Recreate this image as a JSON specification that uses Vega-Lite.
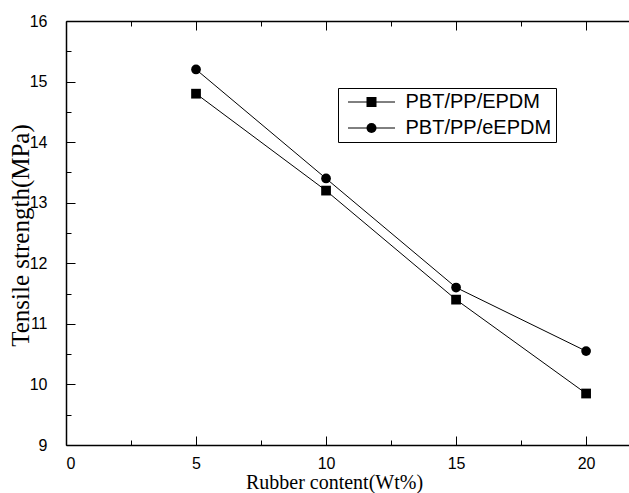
{
  "$schema": "https://vega.github.io/schema/vega-lite/v6.json",
  "width": 563,
  "height": 424,
  "autosize": "none",
  "padding": {"left": 66, "top": 21, "right": 0, "bottom": 48},
  "background": "white",
  "data": {"values": [
    {"x": 5, "y": 14.8, "series": "PBT/PP/EPDM"},
    {"x": 10, "y": 13.2, "series": "PBT/PP/EPDM"},
    {"x": 15, "y": 11.4, "series": "PBT/PP/EPDM"},
    {"x": 20, "y": 9.85, "series": "PBT/PP/EPDM"},
    {"x": 5, "y": 15.2, "series": "PBT/PP/eEPDM"},
    {"x": 10, "y": 13.4, "series": "PBT/PP/eEPDM"},
    {"x": 15, "y": 11.6, "series": "PBT/PP/eEPDM"},
    {"x": 20, "y": 10.55, "series": "PBT/PP/eEPDM"}
  ]},
  "layer": [
    {
      "mark": {"type": "line", "strokeWidth": 1},
      "encoding": {
        "x": {"field": "x", "type": "quantitative",
          "scale": {"domain": [0, 21.65], "nice": false, "zero": false},
          "axis": {"orient": "bottom", "values": [0, 5, 10, 15, 20], "format": "d",
            "tickSize": -9, "labelPadding": 19, "title": "Rubber content(Wt%)",
            "titleX": 268, "titleY": 27, "titleBaseline": "top", "titleAlign": "center", "titleFontSize": 20}},
        "y": {"field": "y", "type": "quantitative",
          "scale": {"domain": [9, 16], "nice": false, "zero": false},
          "axis": {"orient": "left", "values": [9, 10, 11, 12, 13, 14, 15, 16], "format": "d",
            "tickSize": -9, "labelPadding": 28, "title": "Tensile strength(MPa)",
            "titleX": -33, "titleY": 214, "titleAngle": -90, "titleBaseline": "bottom", "titleAlign": "center", "titleFontSize": 25}},
        "color": {"field": "series", "type": "nominal",
          "scale": {"domain": ["PBT/PP/EPDM", "PBT/PP/eEPDM"], "range": ["black", "black"]},
          "legend": {"title": null, "orient": "none", "legendX": 272, "legendY": 67,
            "padding": 4, "rowPadding": 6, "strokeColor": "black",
            "symbolType": "M-4.7,0H4.7", "symbolSize": 100, "symbolStrokeWidth": 1, "symbolStrokeColor": "black",
            "symbolOffset": 19.5, "labelOffset": 24, "labelFontSize": 20, "labelFont": "Liberation Sans", "labelColor": "black"}}
      }
    },
    {
      "mark": {"type": "point", "filled": true, "color": "black", "size": 95, "opacity": 1},
      "encoding": {
        "x": {"field": "x", "type": "quantitative",
          "axis": {"orient": "bottom", "values": [2.5, 7.5, 12.5, 17.5], "tickSize": -5, "labels": false, "domain": false, "title": null}},
        "y": {"field": "y", "type": "quantitative",
          "axis": {"orient": "left", "values": [9.5, 10.5, 11.5, 12.5, 13.5, 14.5, 15.5], "tickSize": -5, "labels": false, "domain": false, "title": null}},
        "shape": {"field": "series", "type": "nominal",
          "scale": {"range": ["square", "circle"]},
          "legend": {"title": null, "orient": "none", "legendX": 272, "legendY": 67,
            "padding": 4, "rowPadding": 6,
            "symbolSize": 100, "symbolFillColor": "black", "symbolStrokeColor": "black", "symbolStrokeWidth": 0,
            "symbolOffset": 19.5, "labelOffset": 24, "labelFontSize": 20, "labelFont": "Liberation Sans", "labelOpacity": 0}}
      }
    },
    {
      "mark": {"type": "point", "opacity": 0},
      "encoding": {
        "x": {"field": "x", "type": "quantitative",
          "axis": {"orient": "top", "values": [0, 5, 10, 15, 20], "tickSize": -9, "labels": false, "title": null}},
        "y": {"field": "y", "type": "quantitative", "axis": null}
      }
    },
    {
      "mark": {"type": "point", "opacity": 0},
      "encoding": {
        "x": {"field": "x", "type": "quantitative",
          "axis": {"orient": "top", "values": [2.5, 7.5, 12.5, 17.5], "tickSize": -5, "labels": false, "domain": false, "title": null}},
        "y": {"field": "y", "type": "quantitative", "axis": null}
      }
    }
  ],
  "resolve": {"axis": {"x": "independent", "y": "independent"}},
  "config": {
    "view": {"stroke": null},
    "axis": {"grid": false, "domainColor": "black", "domainWidth": 1.5, "tickColor": "black", "tickWidth": 1,
      "labelColor": "black", "labelFont": "Liberation Sans", "labelFontSize": 16,
      "titleFont": "Liberation Serif", "titleFontWeight": "normal", "titleColor": "black"}
  }
}
